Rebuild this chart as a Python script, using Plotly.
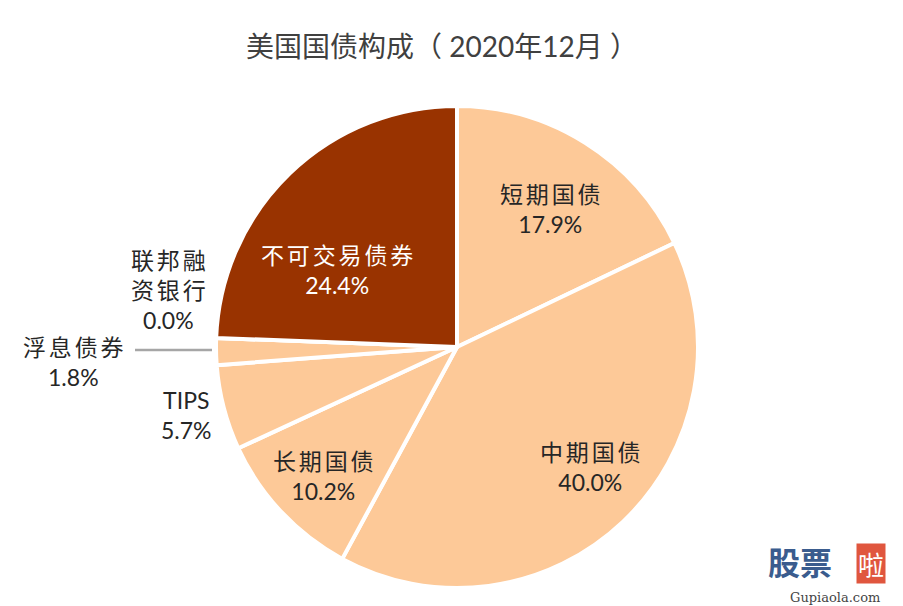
import plotly.graph_objects as go

categories = ["短期国债", "中期国债", "长期国债", "TIPS", "浮息债券", "联邦融资银行", "不可交易债券"]
values = [17.9, 40.0, 10.2, 5.7, 1.8, 0.0, 24.4]
label_lines = [["短期国债"], ["中期国债"], ["长期国债"], ["TIPS"], ["浮息债券"], ["联邦融", "资银行"], ["不可交易债券"]]
colors = ["#FDC998", "#FDC998", "#FDC998", "#FDC998", "#FDC998", "#FDC998", "#993300"]
title_text = "美国国债构成（ 2020年12月 ）"

W, H = 903, 606
cx, cy, r = 457, 347, 241

FONT = "Lato, 'Noto Sans CJK SC', sans-serif"
THIN = "\u2009"


def spaced(s):
    # add thin spacing between CJK characters (like the original's wide Kai font)
    if all(ord(c) > 0x2E80 for c in s):
        return THIN.join(s)
    return s


fig = go.Figure(go.Pie(
    labels=categories,
    values=values,
    sort=False,
    direction="clockwise",
    rotation=0,
    marker=dict(colors=colors, line=dict(color="white", width=4)),
    textinfo="none",
    hoverinfo="label+percent",
    showlegend=False,
    domain=dict(x=[(cx - r) / W, (cx + r) / W], y=[(H - (cy + r)) / H, (H - (cy - r)) / H]),
))

# label positions (pixel centers of text blocks)
label_pos = [(550, 209), (590, 467), (323, 476), (186, 415), (73, 362), (168, 290), (337, 270)]
label_colors = ["#262626"] * 6 + ["#FFFFFF"]

annotations = []
for lines, v, (px, py), col in zip(label_lines, values, label_pos, label_colors):
    txt = "<br>".join([spaced(l) for l in lines] + [f"{v:.1f}%"])
    annotations.append(dict(
        x=px / W, y=1 - py / H, xref="paper", yref="paper",
        text=txt, showarrow=False, xanchor="center", yanchor="middle",
        font=dict(family=FONT, size=23, color=col), align="center",
    ))

# watermark
annotations.append(dict(x=800 / W, y=1 - 561 / H, xref="paper", yref="paper", text="<b>股票</b>",
                        showarrow=False, xanchor="center", yanchor="middle",
                        font=dict(family="'Noto Sans CJK SC'", size=32, color="#3A5C8E")))
annotations.append(dict(x=871 / W, y=1 - 563 / H, xref="paper", yref="paper", text="啦",
                        showarrow=False, xanchor="center", yanchor="middle",
                        bgcolor="#E0563E", borderpad=1,
                        font=dict(family="'Noto Sans CJK SC'", size=26, color="white")))
annotations.append(dict(x=835 / W, y=1 - 597 / H, xref="paper", yref="paper", text="Gupiaola.com",
                        showarrow=False, xanchor="center", yanchor="middle",
                        font=dict(family="'DejaVu Serif', serif", size=13, color="#444444")))

fig.update_layout(
    width=W, height=H,
    margin=dict(l=0, r=0, t=0, b=0),
    paper_bgcolor="white", plot_bgcolor="white",
    title=dict(text=title_text, x=442 / W, y=1 - 47 / H, xanchor="center", yanchor="middle",
               font=dict(family=FONT, size=28, color="#404040")),
    annotations=annotations,
    shapes=[dict(type="line", xref="paper", yref="paper",
                 x0=135 / W, x1=212 / W, y0=1 - 350 / H, y1=1 - 350 / H,
                 line=dict(color="#A6A6A6", width=2.5))],
)

fig.write_html("out.html")
